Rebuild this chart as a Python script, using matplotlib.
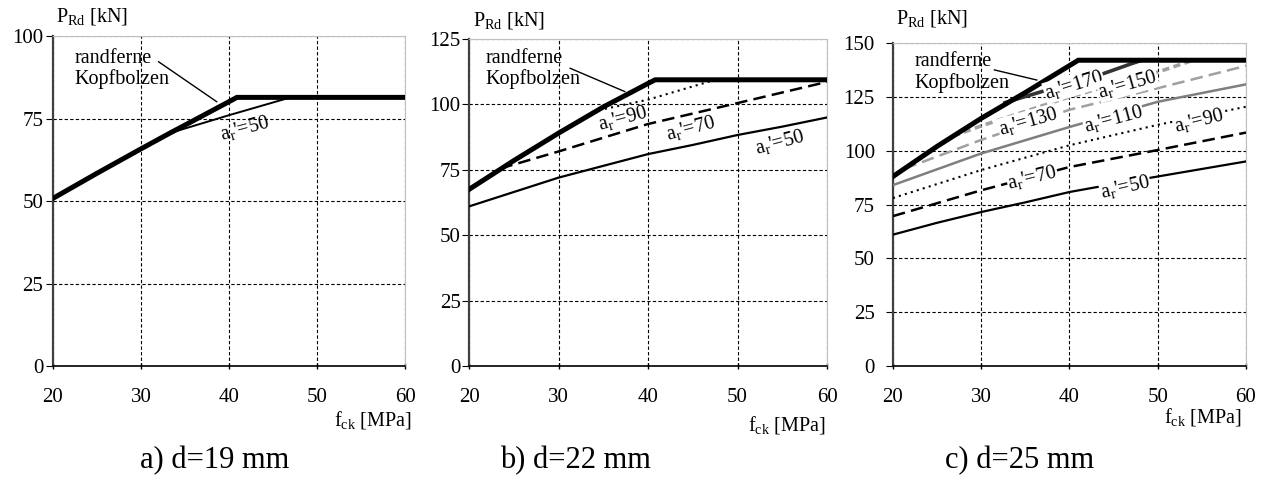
import matplotlib.pyplot as plt

plt.rcParams["font.family"] = ["Liberation Serif", "DejaVu Serif"]
plt.rcParams["mathtext.fontset"] = "custom"
plt.rcParams["mathtext.rm"] = "Liberation Serif"
plt.rcParams["mathtext.it"] = "Liberation Serif:italic"

FCK_TICKS = [20, 30, 40, 50, 60]

# a) d=19 mm
A_FCK_MAX = [20, 25, 30, 33.3, 35, 40, 40.9, 60]
A_P_MAX = [50.8, 58.4, 65.8, 70.6, 73.0, 80.1, 81.4, 81.4]
A_FCK_50 = [33.3, 40, 47]
A_P_50 = [70.6, 76.0, 81.4]

# b) d=22 mm
B_FCK_MAX = [20, 25, 30, 35, 40, 40.8, 60]
B_P_MAX = [67.5, 78.5, 89.0, 99.0, 108.0, 109.4, 109.4]
B_FCK_90 = [34.5, 40, 47.5]
B_P_90 = [97.8, 101.8, 109.4]
B_FCK_70 = [23.5, 30, 40, 50, 60]
B_P_70 = [75.5, 82.0, 92.5, 100.5, 108.6]
B_FCK_50 = [20, 25, 30, 35, 40, 45, 50, 55, 60]
B_P_50 = [61.0, 66.5, 72.0, 76.5, 81.0, 84.5, 88.3, 91.5, 95.0]

# c) d=25 mm
C_FCK_MAX = [20, 25, 30, 35, 40, 41, 60]
C_P_MAX = [88.0, 102.0, 115.0, 127.0, 139.5, 142.0, 142.0]
C_FCK_170 = [32.7, 37, 43.3, 47.1, 48.2]
C_P_170 = [122.3, 127.6, 135.0, 140.5, 142.0]
C_FCK_150 = [26.8, 30, 40, 43.5, 50, 54]
C_P_150 = [106.8, 111.5, 125.0, 129.0, 136.5, 142.0]
C_FCK_130 = [21.3, 30, 40, 50, 60]
C_P_130 = [91.6, 105.0, 119.0, 129.0, 139.4]
C_FCK_110 = [20, 30, 40, 50, 60]
C_P_110 = [84.0, 98.7, 111.0, 122.7, 130.8]
C_FCK_90 = [20, 30, 40, 50, 60]
C_P_90 = [78.0, 91.0, 102.5, 112.0, 120.4]
C_FCK_70 = [20, 30, 40, 50, 60]
C_P_70 = [69.6, 81.6, 92.4, 100.3, 108.4]
C_FCK_50 = [20, 25, 30, 35, 40, 45, 50, 55, 60]
C_P_50 = [61.0, 66.5, 71.5, 76.0, 80.8, 84.5, 88.0, 91.5, 95.0]

SUBTITLES = ["a) d=19 mm", "b) d=22 mm", "c) d=25 mm"]
NOTE = "randferne\nKopfbolzen"

STYLE = {
    "max": dict(color="black", lw=3.6, zorder=6, solid_joinstyle="miter"),
    50: dict(color="black", lw=1.6, zorder=4),
    70: dict(color="black", lw=1.8, ls=(0, (5, 2.5)), zorder=4),
    90: dict(color="black", lw=1.5, ls=(0, (1, 2)), zorder=4),
    110: dict(color="#7f7f7f", lw=1.8, zorder=4),
    130: dict(color="#a0a0a0", lw=1.8, ls=(0, (5, 2.5)), zorder=4),
    150: dict(color="#a0a0a0", lw=2.6, ls=(0, (2, 1.2)), zorder=4),
    170: dict(color="#333333", lw=2.6, zorder=5),
}

FS = 14.5
TICK_FS = 15


def ar(v):
    return r"a$_\mathrm{r}$'=" + str(v)


def setup(ax, ymax, ypad, ylab_y, xlab_xy):
    ax.set_xlim(20, 60)
    ax.set_ylim(0, ymax)
    ax.set_xticks(FCK_TICKS)
    ax.set_yticks(range(0, ymax + 1, 25))
    ax.grid(True, color="black", lw=0.8, ls=(0, (3, 2)))
    ax.set_axisbelow(True)
    for s in ("top", "right"):
        ax.spines[s].set_color("#c0c0c0")
        ax.spines[s].set_linewidth(0.8)
    ax.spines["left"].set_color("#404040")
    ax.spines["left"].set_linewidth(1.6)
    ax.spines["bottom"].set_color("black")
    ax.spines["bottom"].set_linewidth(1.2)
    ax.tick_params(axis="x", direction="inout", length=5, width=1, pad=13, labelsize=TICK_FS)
    ax.tick_params(axis="y", direction="out", length=5, width=0.8, pad=ypad, labelsize=TICK_FS)
    ax.text(0.01, ylab_y, r"P$_\mathrm{Rd}$ [kN]", transform=ax.transAxes,
            ha="left", va="center", fontsize=FS)
    ax.text(xlab_xy[0], xlab_xy[1], r"f$_\mathrm{ck}$ [MPa]", transform=ax.transAxes,
            ha="right", va="center", fontsize=FS)


def note(ax, xy, p0, p1):
    ax.text(xy[0], xy[1], NOTE, ha="left", va="center", fontsize=FS, linespacing=1.1, zorder=7)
    ax.plot([p0[0], p1[0]], [p0[1], p1[1]], color="black", lw=1.0, zorder=7)


def label(ax, x, y, v, rot, box=False):
    kw = {}
    if box:
        kw["bbox"] = dict(boxstyle="square,pad=0.02", facecolor="white", edgecolor="none")
    ax.text(x, y, ar(v), ha="center", va="center", rotation=rot, fontsize=FS,
            rotation_mode="anchor", zorder=8, **kw)


fig = plt.figure(figsize=(12.7, 4.96), dpi=100)
ax_a = fig.add_axes([0.0417, 0.2621, 0.2772, 0.6653])
ax_b = fig.add_axes([0.3693, 0.2621, 0.2819, 0.6593])
ax_c = fig.add_axes([0.7031, 0.2621, 0.2780, 0.6512])

# a)
setup(ax_a, 100, 2, 1.058, (1.02, -0.164))
ax_a.plot(A_FCK_50, A_P_50, color="black", lw=1.4, zorder=4)
ax_a.plot(A_FCK_MAX, A_P_MAX, **STYLE["max"])
label(ax_a, 41.8, 72.0, 50, 15)
note(ax_a, (22.4, 90.0), (32.0, 92.2), (38.6, 80.1))

# b)
setup(ax_b, 125, 1, 1.058, (0.997, -0.18))
ax_b.plot(B_FCK_50, B_P_50, **STYLE[50])
ax_b.plot(B_FCK_70, B_P_70, **STYLE[70])
ax_b.plot(B_FCK_90, B_P_90, **STYLE[90])
ax_b.plot(B_FCK_MAX, B_P_MAX, **STYLE["max"])
label(ax_b, 37.2, 94.5, 90, 15)
label(ax_b, 44.8, 91.0, 70, 15)
label(ax_b, 54.7, 85.5, 50, 15)
note(ax_b, (21.8, 113.5), (31.3, 113.8), (37.4, 104.9))

# c)
setup(ax_c, 150, 8, 1.076, (0.989, -0.158))
ax_c.plot(C_FCK_50, C_P_50, **STYLE[50])
ax_c.plot(C_FCK_70, C_P_70, **STYLE[70])
ax_c.plot(C_FCK_90, C_P_90, **STYLE[90])
ax_c.plot(C_FCK_110, C_P_110, **STYLE[110])
ax_c.plot(C_FCK_130, C_P_130, **STYLE[130])
ax_c.plot(C_FCK_150, C_P_150, **STYLE[150])
ax_c.plot(C_FCK_170, C_P_170, **STYLE[170])
ax_c.plot(C_FCK_MAX, C_P_MAX, **STYLE["max"])
label(ax_c, 40.5, 130.5, 170, 17, box=True)
label(ax_c, 46.6, 130.8, 150, 16, box=True)
label(ax_c, 35.3, 113.5, 130, 16, box=True)
label(ax_c, 45.0, 114.5, 110, 15, box=True)
label(ax_c, 54.7, 114.0, 90, 14, box=True)
label(ax_c, 35.8, 87.3, 70, 14, box=True)
label(ax_c, 46.3, 83.3, 50, 13, box=True)
note(ax_c, (22.4, 136.3), (31.5, 137.5), (36.3, 132.8))

for xc, t in zip([215, 575, 1020], SUBTITLES):
    fig.text(xc / 1270, 0.0706, t, ha="center", va="center", fontsize=22)

fig.savefig("out.png", dpi=100)
